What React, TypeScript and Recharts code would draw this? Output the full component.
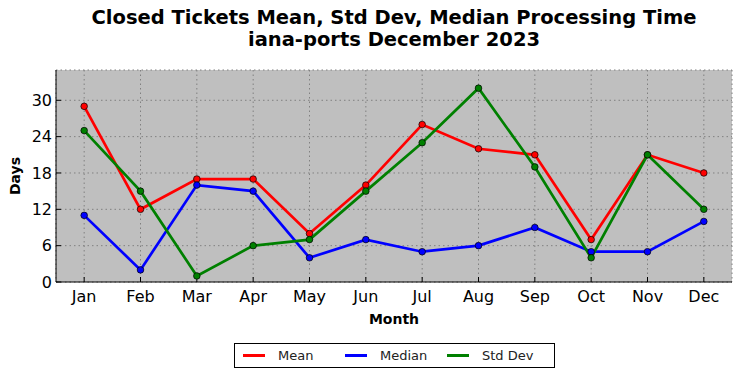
import React from 'react';
import {
  LineChart,
  Line,
  XAxis,
  YAxis,
  CartesianGrid,
  Label
} from 'recharts';

const months = ['Jan', 'Feb', 'Mar', 'Apr', 'May', 'Jun', 'Jul', 'Aug', 'Sep', 'Oct', 'Nov', 'Dec'];
const meanDays = [29, 12, 17, 17, 8, 16, 26, 22, 21, 7, 21, 18];
const medianDays = [11, 2, 16, 15, 4, 7, 5, 6, 9, 5, 5, 10];
const stdDevDays = [25, 15, 1, 6, 7, 15, 23, 32, 19, 4, 21, 12];
const yTicks = [0, 6, 12, 18, 24, 30];

const series = [
  { key: 'mean', name: 'Mean', color: '#ff0000' },
  { key: 'median', name: 'Median', color: '#0000ff' },
  { key: 'std', name: 'Std Dev', color: '#008000' }
];

const data = months.map((m, i) => ({
  idx: i,
  month: m,
  mean: meanDays[i],
  median: medianDays[i],
  std: stdDevDays[i]
}));

const font = 'DejaVu Sans, sans-serif';

// legend drawn as a boxed row, like the matplotlib one
const LegendBox = () => (
  <div
    style={{
      position: 'absolute',
      left: 234,
      top: 343,
      display: 'flex',
      alignItems: 'center',
      border: '1px solid #000',
      background: '#fff',
      height: 25,
      width: 321,
      boxSizing: 'border-box',
      fontFamily: font,
      fontSize: 13,
      color: '#222'
    }}
  >
    {series.map((s, i) => (
      <div key={s.key} style={{ display: 'flex', alignItems: 'center', marginLeft: i === 0 ? 8 : 14 }}>
        <span style={{ display: 'inline-block', width: 22, height: 3, background: s.color }} />
        <span style={{ marginLeft: 13, width: i === 2 ? 'auto' : 53 }}>{s.name}</span>
      </div>
    ))}
  </div>
);

export default function App() {
  return (
    <div style={{ position: 'absolute', left: 0, top: 0, width: 742, height: 378, background: '#fff' }}>
      <style>{'body{margin:0}'}</style>
      <div
        style={{
          position: 'absolute',
          left: 56,
          width: 676,
          top: 7,
          textAlign: 'center',
          fontFamily: font,
          fontWeight: 'bold',
          fontSize: 19.5,
          lineHeight: '22px',
          color: '#000'
        }}
      >
        <div>Closed Tickets Mean, Std Dev, Median Processing Time</div>
        <div>iana-ports December 2023</div>
      </div>
      <LineChart
        width={742}
        height={378}
        data={data}
        margin={{ top: 70, right: 10, left: 0, bottom: 0 }}
        style={{ position: 'absolute', left: 0, top: 0 }}
      >
        <CartesianGrid
          stroke="#808080"
          strokeDasharray="1.5 3"
          fill="#bfbfbf"
          fillOpacity={1}
        />
        <XAxis
          type="number"
          dataKey="idx"
          domain={[-0.5, 11.5]}
          ticks={months.map((_, i) => i)}
          tickFormatter={(v) => months[v]}
          interval={0}
          height={96}
          stroke="#000"
          tickSize={-5}
          tickMargin={14}
          tick={{ fill: '#000', fontSize: 16, fontFamily: font }}
        >
          <Label
            value="Month"
            position="insideTop"
            offset={32}
            style={{ fill: '#000', fontSize: 14, fontWeight: 'bold', fontFamily: font }}
          />
        </XAxis>
        <XAxis
          xAxisId="top"
          orientation="top"
          type="number"
          dataKey="idx"
          domain={[-0.5, 11.5]}
          ticks={months.map((_, i) => i)}
          height={0}
          stroke="#000"
          tickSize={-5}
          tick={false}
        />
        <YAxis
          domain={[0, 35]}
          ticks={yTicks}
          width={56}
          stroke="#000"
          tickSize={-5}
          tickMargin={9}
          tick={{ fill: '#000', fontSize: 16, fontFamily: font }}
        >
          <Label
            value="Days"
            angle={-90}
            position="insideLeft"
            offset={15}
            style={{ fill: '#000', fontSize: 14, fontWeight: 'bold', fontFamily: font, textAnchor: 'middle' }}
          />
        </YAxis>
        <YAxis
          yAxisId="right"
          orientation="right"
          domain={[0, 35]}
          ticks={yTicks}
          width={0}
          stroke="#000"
          tickSize={-5}
          tick={false}
        />
        {series.map((s) => (
          <Line
            key={s.key}
            type="linear"
            dataKey={s.key}
            name={s.name}
            stroke={s.color}
            strokeWidth={2.7}
            dot={{ r: 3.3, fill: s.color, stroke: '#000', strokeWidth: 0.7 }}
            activeDot={false}
            isAnimationActive={false}
          />
        ))}
      </LineChart>
      <LegendBox />
    </div>
  );
}
